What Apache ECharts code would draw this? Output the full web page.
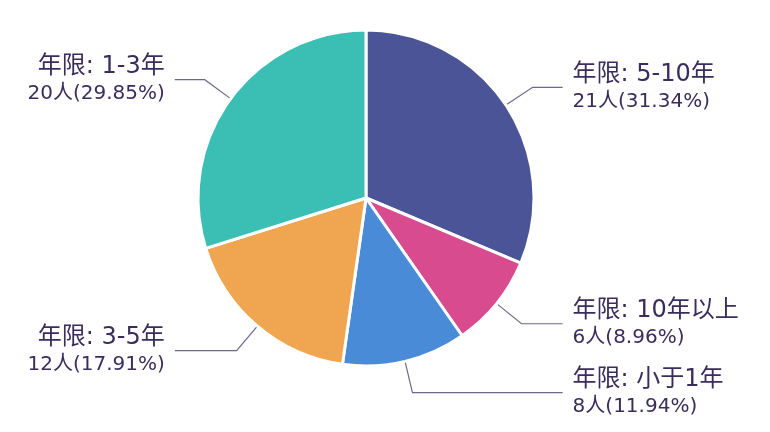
<!DOCTYPE html>
<html>
<head>
<meta charset="utf-8">
<script src="https://cdn.jsdelivr.net/npm/echarts@6/dist/echarts.min.js"></script>
<style>
    html, body { margin: 0; padding: 0; background: #fff; }
    #main { width: 770px; height: 432px; }
</style>
</head>
<body>
<div id="main"></div>
<script>
// 工作年限分布
const categories = ['5-10年', '10年以上', '小于1年', '3-5年', '1-3年'];
const counts = [21, 6, 8, 12, 20];
const colors = ['#4a5497', '#d84b8e', '#4a8bd7', '#f0a650', '#3bbfb5'];

let pieData = [];
for (let i = 0; i < categories.length; i++) {
    pieData.push({ name: categories[i], value: counts[i], itemStyle: { color: colors[i] } });
}

const labelFont = 'DejaVu Sans, Noto Sans CJK SC';

let myChart = echarts.init(document.getElementById('main'));
myChart.setOption({
    backgroundColor: '#fff',
    animation: false,
    series: [
        {
            type: 'pie',
            center: [366, 198],
            radius: 168,
            startAngle: 90,
            clockwise: true,
            data: pieData,
            itemStyle: { borderColor: '#fff', borderWidth: 3 },
            label: {
                show: true,
                alignTo: 'labelLine',
                distanceToLabelLine: 10,
                formatter: '{a|年限: {b}}\n{c|{c}人({d}%)}',
                fontFamily: labelFont,
                color: '#3a2d5c',
                rich: {
                    a: { fontSize: 24, lineHeight: 29, color: '#3a2d5c', fontFamily: labelFont },
                    c: { fontSize: 20, lineHeight: 26, color: '#3a2d5c', fontFamily: labelFont }
                }
            },
            labelLine: {
                show: true,
                length: 32,
                length2: 30,
                lineStyle: { color: '#6c6a8c', width: 1.2 }
            }
        }
    ]
});
</script>
</body>
</html>
